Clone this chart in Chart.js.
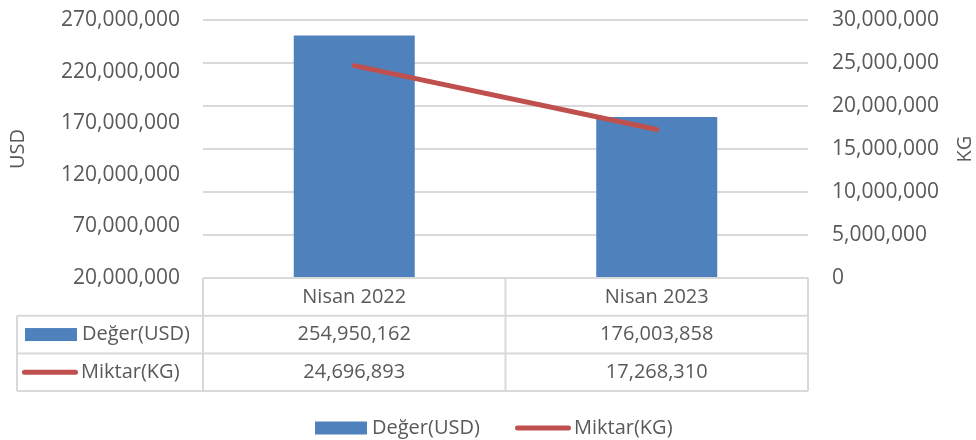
<!DOCTYPE html>
<html><head><meta charset="utf-8">
<script src="https://cdn.jsdelivr.net/npm/chart.js@4"></script>
<style>html,body{margin:0;padding:0;background:#fff}#wrap{width:976px;height:440px}</style>
</head><body><div id="wrap"><canvas id="c" width="976" height="440"></canvas></div>
<script>
const categories = ['Nisan 2022', 'Nisan 2023'];
const valueUSD = [254950162, 176003858];
const quantityKG = [24696893, 17268310];
const seriesNames = ['Değer(USD)', 'Miktar(KG)'];
const usdTicks = [20000000, 70000000, 120000000, 170000000, 220000000, 270000000];
const kgTicks = [0, 5000000, 10000000, 15000000, 20000000, 25000000, 30000000];
const axisTitles = ['USD', 'KG'];

const BAR_COLOR = '#4F81BD';
const LINE_COLOR = '#C0504D';
const TEXT_COLOR = '#595959';
const GRID_COLOR = '#d9d9d9';
const FONT = 'Open Sans';
const fmt = v => Number(v).toLocaleString('en-US');

Chart.defaults.font.family = FONT;
Chart.defaults.font.size = 20;
Chart.defaults.color = TEXT_COLOR;

const extras = {
  id: 'extras',
  afterDraw(chart) {
    const ctx = chart.ctx;
    const area = chart.chartArea;
    const xs = chart.scales.x;
    const L0 = 17, L1 = area.left, L3 = area.right;
    const L2 = (xs.getPixelForValue(0) + xs.getPixelForValue(1)) / 2;
    const r0 = area.bottom, rh = 37.7;
    const r1 = r0 + rh, r2 = r1 + rh, r3 = r2 + rh;
    ctx.save();
    ctx.strokeStyle = GRID_COLOR;
    ctx.lineWidth = 2;
    const line = (x1, y1, x2, y2) => { ctx.beginPath(); ctx.moveTo(x1, y1); ctx.lineTo(x2, y2); ctx.stroke(); };
    line(L1, r0, L3, r0);
    line(L0, r1, L3, r1);
    line(L0, r2, L3, r2);
    line(L0, r3, L3, r3);
    line(L0, r1, L0, r3);
    line(L1, r0, L1, r3);
    line(L2, r0, L2, r3);
    line(L3, r0, L3, r3);

    ctx.fillStyle = TEXT_COLOR;
    ctx.font = '20px "' + FONT + '"';
    ctx.textAlign = 'center';
    ctx.textBaseline = 'middle';
    categories.forEach((c, i) => {
      const cx = xs.getPixelForValue(i);
      ctx.fillText(c, cx, (r0 + r1) / 2);
      ctx.fillText(fmt(valueUSD[i]), cx, (r1 + r2) / 2);
      ctx.fillText(fmt(quantityKG[i]), cx, (r2 + r3) / 2);
    });
    // row keys
    const drawBarKey = (x, y) => { ctx.fillStyle = BAR_COLOR; ctx.fillRect(x, y - 6.5, 52, 13); };
    const drawLineKey = (x, y) => {
      ctx.strokeStyle = LINE_COLOR; ctx.lineWidth = 5; ctx.lineCap = 'round';
      ctx.beginPath(); ctx.moveTo(x + 2.5, y); ctx.lineTo(x + 53.5, y); ctx.stroke();
    };
    const y1 = (r1 + r2) / 2, y2 = (r2 + r3) / 2;
    drawBarKey(25, y1);
    drawLineKey(22, y2);
    ctx.fillStyle = TEXT_COLOR;
    ctx.textAlign = 'left';
    ctx.fillText(seriesNames[0], 82, y1);
    ctx.fillText(seriesNames[1], 81, y2);

    // bottom legend
    const ly = 428;
    drawBarKey(315, ly);
    ctx.fillStyle = TEXT_COLOR;
    ctx.fillText(seriesNames[0], 372, ly);
    drawLineKey(515, ly);
    ctx.fillStyle = TEXT_COLOR;
    ctx.fillText(seriesNames[1], 574, ly);

    // axis titles (rotated, reading bottom to top)
    const midY = (area.top + area.bottom) / 2;
    ctx.textAlign = 'center';
    [[axisTitles[0], 18], [axisTitles[1], 965]].forEach(([t, x]) => {
      ctx.save();
      ctx.translate(x, midY);
      ctx.rotate(-Math.PI / 2);
      ctx.fillText(t, 0, 0);
      ctx.restore();
    });
    ctx.restore();
  }
};

new Chart(document.getElementById('c'), {
  type: 'bar',
  data: {
    labels: categories,
    datasets: [
      {
        type: 'line', label: seriesNames[1], data: quantityKG, yAxisID: 'y1',
        borderColor: LINE_COLOR, borderWidth: 5, borderCapStyle: 'round',
        pointRadius: 0, pointHoverRadius: 0, tension: 0, order: 0
      },
      {
        type: 'bar', label: seriesNames[0], data: valueUSD, yAxisID: 'y',
        backgroundColor: BAR_COLOR, barPercentage: 0.4, categoryPercentage: 1, order: 1
      }
    ]
  },
  options: {
    responsive: false,
    animation: false,
    events: [],
    layout: { padding: { top: 20, bottom: 162, left: 0, right: 0 } },
    plugins: { legend: { display: false }, tooltip: { enabled: false } },
    scales: {
      x: { display: false, offset: true },
      y: {
        position: 'left', min: usdTicks[0], max: usdTicks[usdTicks.length - 1],
        afterBuildTicks: s => { s.ticks = usdTicks.map(v => ({ value: v })); },
        afterFit: s => { s.width = 203; s.paddingTop = 0; s.paddingBottom = 0; },
        grid: { display: false, drawTicks: false },
        border: { display: false },
        ticks: { padding: 23, font: { size: 21 }, callback: v => fmt(v) }
      },
      y1: {
        position: 'right', min: kgTicks[0], max: kgTicks[kgTicks.length - 1],
        afterBuildTicks: s => { s.ticks = kgTicks.map(v => ({ value: v })); },
        afterFit: s => { s.width = 168; s.paddingTop = 0; s.paddingBottom = 0; },
        grid: { display: true, drawTicks: false, color: GRID_COLOR, lineWidth: 2 },
        border: { display: false },
        ticks: { padding: 24, font: { size: 21 }, callback: v => fmt(v) }
      }
    }
  },
  plugins: [extras]
});
</script>
</body></html>
